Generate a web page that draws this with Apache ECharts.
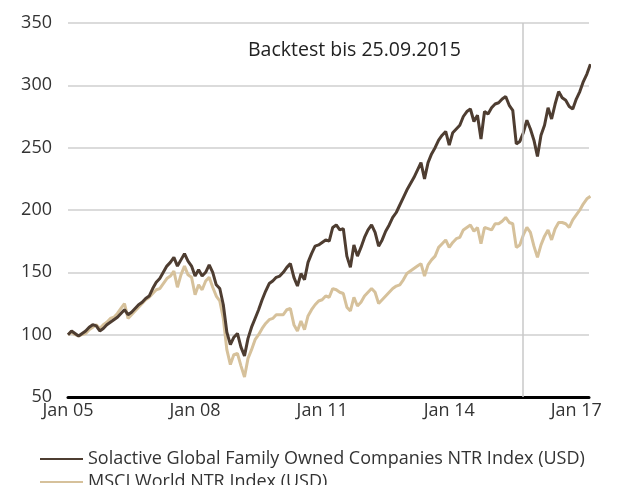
<!DOCTYPE html>
<html>
<head>
<meta charset="utf-8">
<script src="https://cdn.jsdelivr.net/npm/echarts@6/dist/echarts.min.js"></script>
<style>
  html, body { margin: 0; padding: 0; background: #fff; }
  #main { width: 620px; height: 485px; }
</style>
</head>
<body>
<div id="main"></div>
<script>
// Monatswerte ab Jan 2005 (Index 0) bis Mai 2017
var solactive = [
  100, 103, 101, 99, 101, 103, 106, 108, 107, 103, 105, 108,
  110, 112, 114, 117, 120, 116, 118, 121, 124, 126, 129, 131,
  137, 142, 145, 150, 155, 158, 162, 155, 160, 165, 159, 155,
  147, 152, 147, 150, 156, 150, 140, 137, 124, 102, 92, 98,
  101, 90, 83, 97, 106, 113, 120, 128, 135, 141, 143, 146,
  147, 150, 154, 157, 146, 139, 149, 144, 158, 165, 171, 172,
  174, 176, 175, 186, 188, 184, 185, 163, 154, 172, 163, 170,
  178, 184, 188, 182, 171, 176, 183, 188, 194, 198, 204, 210,
  216, 221, 226, 232, 238, 225, 238, 245, 250, 256, 260, 263,
  252, 262, 265, 268, 275, 279, 281, 271, 276, 257, 279, 277,
  282, 285, 286, 289, 291, 284, 280, 253, 255, 262, 272, 265,
  256, 243, 260, 268, 282, 273, 285, 295, 290, 288, 283, 281,
  289, 295, 303, 309, 317
];
var msci = [
  100, 102, 100, 99, 100, 101, 104, 106, 108, 105, 108, 110,
  113, 114, 117, 121, 125, 113, 116, 119, 122, 125, 128, 130,
  133, 136, 137, 141, 145, 147, 151, 138, 148, 155, 148, 146,
  132, 140, 136, 143, 146, 138, 131, 127, 113, 88, 76, 84,
  85, 75, 66, 81, 88, 96, 100, 105, 109, 112, 113, 116,
  116, 116, 120, 121, 108, 103, 111, 104, 115, 120, 124, 127,
  128, 131, 130, 137, 136, 134, 133, 122, 119, 130, 123, 126,
  131, 134, 137, 134, 125, 128, 131, 134, 137, 139, 140, 144,
  149, 151, 153, 155, 157, 147, 156, 160, 163, 170, 173, 176,
  170, 174, 177, 178, 184, 186, 188, 183, 186, 173, 186, 185,
  184, 189, 189, 191, 194, 190, 189, 170, 172, 180, 186, 182,
  171, 162, 172, 179, 184, 176, 185, 190, 190, 189, 186, 192,
  196, 200, 205, 209, 211
];
var xTickLabels = ['Jan 05', 'Jan 08', 'Jan 11', 'Jan 14', 'Jan 17'];
var seriesNames = [
  'Solactive Global Family Owned Companies NTR Index (USD)',
  'MSCI World NTR Index (USD)'
];
var backtestEnd = 10.73; // 25.09.2015 in Jahren ab Jan 2005

function toPairs(arr) {
  return arr.map(function (v, i) { return [i / 12, v]; });
}

var font = '"Open Sans", "Noto Sans", sans-serif';
var legendBase = {
  left: 35,
  icon: 'rect',
  itemWidth: 43,
  itemHeight: 2,
  textStyle: { fontSize: 18, color: '#333' }
};

var myChart = echarts.init(document.getElementById('main'));
myChart.setOption({
  backgroundColor: '#fff',
  animation: false,
  textStyle: { fontFamily: font },
  grid: { left: 68, right: 31, top: 23, bottom: 88 },
  graphic: [{
    type: 'text',
    left: 248,
    top: 40,
    style: { text: 'Backtest bis 25.09.2015', font: '19.5px ' + font, fill: '#222' }
  }],
  legend: [
    Object.assign({ top: 445, data: [seriesNames[0]] }, legendBase),
    Object.assign({ top: 468, data: [seriesNames[1]] }, legendBase)
  ],
  xAxis: {
    type: 'value',
    min: 0,
    max: 12.3,
    interval: 3,
    axisLine: { show: true, lineStyle: { color: '#000', width: 3 } },
    axisTick: { show: false },
    splitLine: { show: false },
    axisLabel: {
      fontSize: 18,
      color: '#333',
      margin: 5,
      formatter: function (v) {
        return v % 3 === 0 ? xTickLabels[v / 3] : '';
      }
    }
  },
  yAxis: {
    type: 'value',
    min: 50,
    max: 350,
    interval: 50,
    axisLine: { show: false },
    axisTick: { show: false },
    axisLabel: { fontSize: 18, color: '#333', margin: 16 },
    splitLine: { lineStyle: { color: '#cfcfcf', width: 1.5 } }
  },
  series: [
    {
      name: seriesNames[1],
      type: 'line',
      data: toPairs(msci),
      showSymbol: false,
      lineStyle: { color: '#d6c19b', width: 3 },
      itemStyle: { color: '#d6c19b' },
      markLine: {
        silent: true,
        symbol: 'none',
        label: { show: false },
        lineStyle: { color: '#c8c8c8', width: 1.5, type: 'solid' },
        data: [{ xAxis: backtestEnd }]
      }
    },
    {
      name: seriesNames[0],
      type: 'line',
      data: toPairs(solactive),
      showSymbol: false,
      lineStyle: { color: '#4e3d31', width: 3 },
      itemStyle: { color: '#4e3d31' }
    }
  ]
});
</script>
</body>
</html>
